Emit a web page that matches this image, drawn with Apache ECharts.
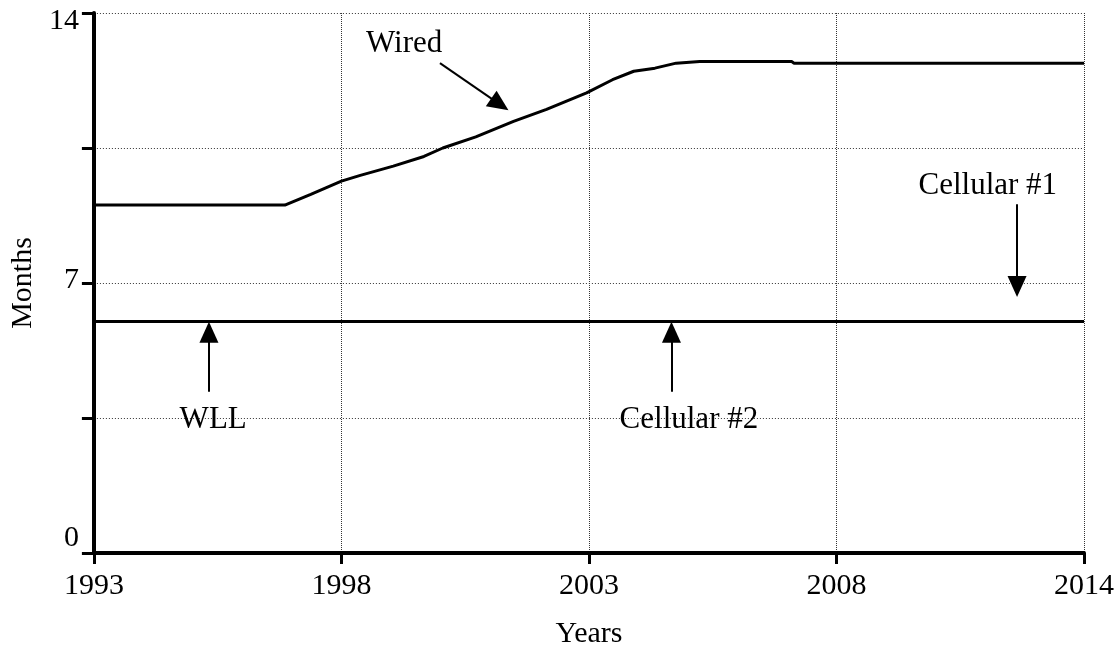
<!DOCTYPE html>
<html>
<head>
<meta charset="utf-8">
<script src="https://cdn.jsdelivr.net/npm/echarts@6/dist/echarts.min.js"></script>
<style>
  html, body { margin: 0; padding: 0; background: #fff; }
  #chart { width: 1117px; height: 654px; }
</style>
</head>
<body>
<div id="chart"></div>
<script>
// Time axis runs 1993..2014, split in four equal steps (Vensim style).
const startYear = 1993;
const endYear = 2014;

// Wired: months, sampled along the run
const wiredYears  = [1993, 1997.05, 1997.6, 1998.25, 1998.65, 1999.35, 2000.0, 2000.4, 2001.1, 2001.9, 2002.6, 2003.45, 2004.0, 2004.45, 2004.9, 2005.35, 2005.85, 2007.8, 2007.85, 2014];
const wiredValues = [9.02, 9.02, 9.3, 9.64, 9.79, 10.03, 10.28, 10.5, 10.79, 11.19, 11.5, 11.93, 12.27, 12.49, 12.57, 12.7, 12.74, 12.74, 12.7, 12.7];

// WLL and both cellular cases stay flat (they coincide)
const flatYears = [1993, 2014];
const wllValues = [6.0, 6.0];
const cell1Values = [6.0, 6.0];
const cell2Values = [6.0, 6.0];

const yTickLabels = [0, 7, 14];

const FONT = '"Liberation Serif", "Times New Roman", serif';

const toPts = (years, vals) => years.map((y, i) => [y - startYear, vals[i]]);

// Arrow annotations: [from, to] in (year offset, months)
const arrows = [
  { from: [7.34, 12.70], to: [8.61, 11.63] },   // Wired
  { from: [2.44, 4.18],  to: [2.44, 5.72] },    // WLL
  { from: [12.25, 4.18], to: [12.25, 5.72] },   // Cellular #2
  { from: [19.58, 9.04], to: [19.58, 6.91] }    // Cellular #1
];
const notes = [
  { name: 'Wired',       coord: [6.58, 13.20] },
  { name: 'WLL',         coord: [2.53, 3.44] },
  { name: 'Cellular #2', coord: [12.62, 3.44] },
  { name: 'Cellular #1', coord: [18.96, 9.53] }
];

const chart = echarts.init(document.getElementById('chart'), null, { renderer: 'canvas' });

const lineSeries = (name, data) => ({
  name, type: 'line', data, showSymbol: false, symbol: 'none',
  lineStyle: { color: '#000', width: 3 }, z: 3, animation: false
});

chart.setOption({
  animation: false,
  backgroundColor: '#fff',
  grid: { left: 78, right: 27, top: 13, bottom: 99, containLabel: false },
  xAxis: {
    type: 'value', min: 0, max: endYear - startYear, interval: 5.25,
    name: 'Years', nameLocation: 'middle', nameGap: 66,
    nameTextStyle: { fontFamily: FONT, fontSize: 30, color: '#000' },
    axisLine: { show: true, onZero: false, lineStyle: { color: '#000', width: 4 } },
    axisTick: { show: true, length: 11, lineStyle: { color: '#000', width: 3 } },
    axisLabel: {
      margin: 18, fontFamily: FONT, fontSize: 30, color: '#000',
      formatter: v => String(startYear + Math.floor(v + 1e-9))
    },
    splitLine: { show: true, lineStyle: { color: '#333', width: 1, type: [1, 1] } }
  },
  yAxis: {
    type: 'value', min: 0, max: 14, interval: 3.5,
    name: 'Months', nameLocation: 'middle', nameGap: 42, nameRotate: 90,
    nameTextStyle: { fontFamily: FONT, fontSize: 30, color: '#000' },
    axisLine: { show: true, onZero: false, lineStyle: { color: '#000', width: 4 } },
    axisTick: { show: true, length: 12, lineStyle: { color: '#000', width: 3 } },
    axisLabel: {
      margin: 15, fontFamily: FONT, fontSize: 30, color: '#000',
      formatter: v => {
        if (!yTickLabels.includes(v)) return '';
        if (v === 14) return '{t|' + v + '}';
        if (v === 0) return '{b|' + v + '}';
        return '{m|' + v + '}';
      },
      rich: {
        t: { fontFamily: FONT, fontSize: 30, color: '#000', padding: [16, 0, 0, 0] },
        b: { fontFamily: FONT, fontSize: 30, color: '#000', padding: [0, 0, 30, 0] },
        m: { fontFamily: FONT, fontSize: 30, color: '#000', padding: [0, 0, 6, 0] }
      }
    },
    splitLine: { show: true, lineStyle: { color: '#333', width: 1, type: [1, 2] } }
  },
  series: [
    lineSeries('Wired', toPts(wiredYears, wiredValues)),
    lineSeries('WLL', toPts(flatYears, wllValues)),
    lineSeries('Cellular #1', toPts(flatYears, cell1Values)),
    Object.assign(lineSeries('Cellular #2', toPts(flatYears, cell2Values)), {
      markLine: {
        silent: true, animation: false,
        symbol: ['none', 'triangle'], symbolSize: [19, 21],
        lineStyle: { color: '#000', width: 2, type: 'solid' },
        itemStyle: { color: '#000' },
        label: { show: false },
        emphasis: { disabled: true },
        data: arrows.map(a => [{ coord: a.from }, { coord: a.to }])
      },
      markPoint: {
        silent: true, animation: false,
        symbol: 'circle', symbolSize: 0,
        label: {
          show: true, position: 'inside', fontFamily: FONT, fontSize: 31, color: '#000',
          formatter: p => p.name
        },
        data: notes.map(n => ({ name: n.name, coord: n.coord }))
      }
    })
  ]
});
</script>
</body>
</html>
